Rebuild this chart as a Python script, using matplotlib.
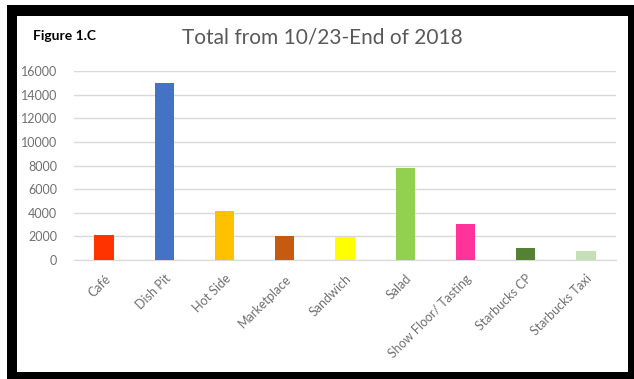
import matplotlib
matplotlib.use('Agg')
import matplotlib.pyplot as plt
from matplotlib.patches import Rectangle

categories = ["Café", "Dish Pit", "Hot Side", "Marketplace", "Sandwich",
              "Salad", "Show Floor/ Tasting", "Starbucks CP", "Starbucks Taxi"]
totals = [2150, 14950, 4150, 2000, 1980, 7750, 3050, 1050, 800]
colours = ["#FF3300", "#4472C4", "#FFC000", "#C55A11", "#FFFF00",
           "#92D050", "#FF3399", "#548235", "#C5E0B4"]
yticks = [0, 2000, 4000, 6000, 8000, 10000, 12000, 14000, 16000]

plt.rcParams['font.family'] = ['Lato', 'DejaVu Sans']

W, H = 634, 379
fig = plt.figure(figsize=(W / 100, H / 100), dpi=100)
fig.patch.set_facecolor('white')

# black frame around the chart (pixel coords from top-left)
def px_rect(x0, y0, x1, y1, **kw):
    return Rectangle((x0 / W, 1 - y1 / H), (x1 - x0) / W, (y1 - y0) / H,
                     transform=fig.transFigure, **kw)

fig.patches.append(px_rect(7, 5, 634, 379, facecolor='black', edgecolor='none', zorder=-10))
fig.patches.append(px_rect(17, 16, 628, 372, facecolor='white', edgecolor='none', zorder=-9))

ax = fig.add_axes([74 / W, 1 - 260 / H, (616 - 74) / W, (260 - 71) / H])
ax.set_facecolor('none')

x = range(len(categories))
ax.bar(x, totals, width=0.32, color=colours, zorder=3)

ax.set_xlim(-0.5, len(categories) - 0.5)
ax.set_ylim(0, 16000)
ax.set_yticks(yticks)
ax.set_yticklabels([str(v) for v in yticks])
ax.grid(axis='y', color='#d9d9d9', lw=1.0, zorder=0)
for s in ['top', 'right', 'left']:
    ax.spines[s].set_visible(False)
ax.spines['bottom'].set_color('#d9d9d9')
ax.tick_params(axis='both', length=0, colors='#707070', labelsize=9)
ax.tick_params(axis='y', pad=12)
ax.set_xticks(list(x))
ax.set_xticklabels(categories, rotation=45, ha='right', rotation_mode='anchor')
ax.tick_params(axis='x', pad=9)

fig.text(33 / W, 1 - 36 / H, "Figure 1.C", fontsize=10, fontweight='bold',
         color='black', va='center', ha='left')
fig.text(322 / W, 1 - 38 / H, "Total from 10/23-End of 2018", fontsize=15,
         color='#595959', va='center', ha='center')

fig.savefig("out.png", dpi=100)
